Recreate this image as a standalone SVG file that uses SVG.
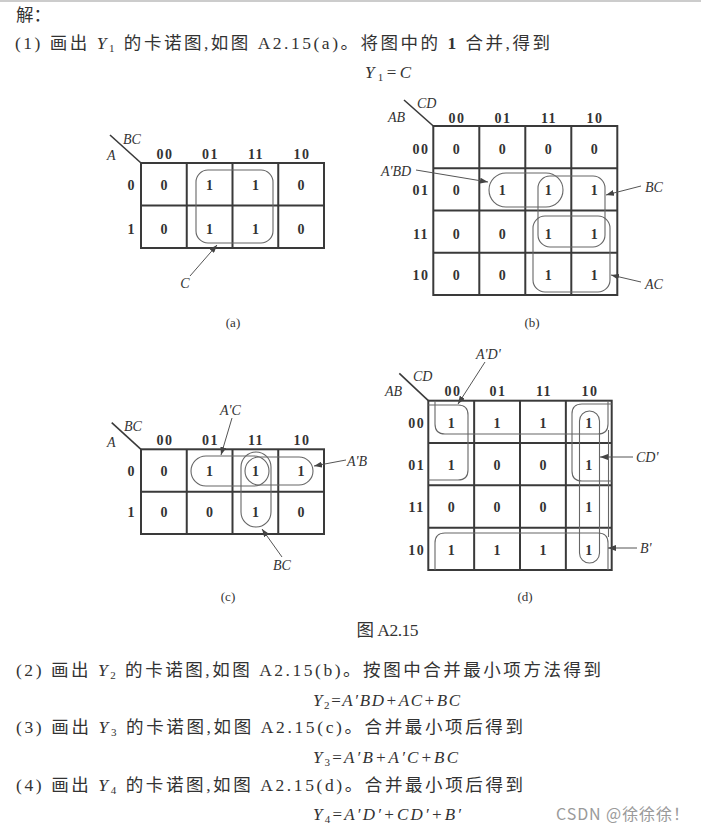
<svg xmlns="http://www.w3.org/2000/svg" width="701" height="834" viewBox="0 0 701 834">
<style>
.t{font-family:"Liberation Serif","Noto Sans CJK SC",serif;font-size:17.5px;fill:#333}
.f{font-family:"Liberation Serif",serif;font-style:italic;font-size:17px;fill:#333}
.sub{font-style:normal;font-size:11px}
.i{font-style:italic}
.grid{fill:none;stroke:#3a3a3a;stroke-width:2}
.diag{stroke:#3a3a3a;stroke-width:1.6}
.loop{fill:none;stroke:#666;stroke-width:1.1}
.d{font-family:"Liberation Serif",serif;font-weight:bold;font-size:14px;fill:#333;text-anchor:middle}
.h{letter-spacing:1.5px}
.v{font-family:"Liberation Serif",serif;font-style:italic;font-size:14px;fill:#333}
.cap{font-family:"Liberation Serif",serif;font-size:13px;fill:#333;text-anchor:middle}
.lead{stroke:#555;stroke-width:1;fill:none;marker-end:url(#ah)}
</style>
<defs>
<marker id="ah" viewBox="0 0 8 6" refX="8" refY="3" markerWidth="8" markerHeight="6" markerUnits="userSpaceOnUse" orient="auto">
<path d="M0,0 L8,3 L0,6 z" fill="#444"/>
</marker>
</defs>
<rect width="701" height="834" fill="#fff"/>
<rect x="0" y="0" width="701" height="2" fill="#ccc"/>

<g id="text-top">
<text x="16" y="21" class="t">解：</text>
<text x="15" y="49" class="t" textLength="535" lengthAdjust="spacing">(1) 画出 <tspan class="i">Y</tspan><tspan class="sub" dy="3">1</tspan><tspan dy="-3"> 的卡诺图,如图 A2.15(a)。将图中的 </tspan><tspan font-weight="bold">1</tspan> 合并,得到</text>
<text x="365" y="78" class="f" textLength="46" lengthAdjust="spacing">Y<tspan class="sub" dy="3">1</tspan><tspan dy="-3" font-style="normal">=</tspan>C</text>
</g>

<g id="map-a">
<rect class="grid" x="141" y="163" width="183" height="85"/>
<path class="grid" d="M186.75,163V248M232.5,163V248M278.25,163V248M141,205.5H324"/>
<line class="diag" x1="110" y1="135" x2="141" y2="163"/>
<text class="v" x="123" y="144">BC</text>
<text class="v" x="107" y="160">A</text>
<g class="d">
<text class="h" x="165" y="158.5">00</text><text class="h" x="210.5" y="158.5">01</text><text class="h" x="256" y="158.5">11</text><text class="h" x="302" y="158.5">10</text>
<text x="131" y="189.5">0</text><text x="131" y="233.5">1</text>
<text x="164" y="189.5">0</text><text x="209.6" y="189.5">1</text><text x="255.4" y="189.5">1</text><text x="301" y="189.5">0</text>
<text x="164" y="233.5">0</text><text x="209.6" y="233.5">1</text><text x="255.4" y="233.5">1</text><text x="301" y="233.5">0</text>
</g>
<rect class="loop" x="196" y="170" width="77" height="73" rx="12"/>
<text class="v" x="185" y="288" text-anchor="middle">C</text>
<text class="cap" x="233" y="327">(a)</text>
</g>

<g id="map-b">
<rect class="grid" x="433.3" y="126" width="184" height="169"/>
<path class="grid" d="M479.3,126V295M525.3,126V295M571.3,126V295M433.3,168.25H617.3M433.3,210.5H617.3M433.3,252.75H617.3"/>
<line class="diag" x1="404" y1="100" x2="433.3" y2="126"/>
<text class="v" x="417" y="108">CD</text>
<text class="v" x="388" y="122">AB</text>
<g class="d">
<text class="h" x="457" y="122.5">00</text><text class="h" x="503" y="122.5">01</text><text class="h" x="549" y="122.5">11</text><text class="h" x="595" y="122.5">10</text>
<text class="h" x="421" y="153.5">00</text><text class="h" x="421" y="194.5">01</text><text class="h" x="421" y="238.5">11</text><text class="h" x="421" y="280">10</text>
<text x="456.3" y="153.5">0</text><text x="502.3" y="153.5">0</text><text x="548.3" y="153.5">0</text><text x="594.3" y="153.5">0</text>
<text x="456.3" y="194.5">0</text><text x="502.3" y="194.5">1</text><text x="548.3" y="194.5">1</text><text x="594.3" y="194.5">1</text>
<text x="456.3" y="238.5">0</text><text x="502.3" y="238.5">0</text><text x="548.3" y="238.5">1</text><text x="594.3" y="238.5">1</text>
<text x="456.3" y="280">0</text><text x="502.3" y="280">0</text><text x="548.3" y="280">1</text><text x="594.3" y="280">1</text>
</g>
<rect class="loop" x="489" y="173" width="74" height="34" rx="17"/>
<rect class="loop" x="538" y="176" width="67" height="71" rx="12"/>
<rect class="loop" x="533" y="216" width="77" height="76" rx="12"/>
<text class="v" x="381" y="176">A'BD</text>
<text class="v" x="645" y="191.5">BC</text>
<text class="v" x="645" y="288.5">AC</text>
<text class="cap" x="532" y="327">(b)</text>
</g>

<g id="map-c">
<rect class="grid" x="141" y="449.3" width="183" height="84.7"/>
<path class="grid" d="M186.75,449.3V534M232.5,449.3V534M278.25,449.3V534M141,491.7H324"/>
<line class="diag" x1="111.7" y1="422.7" x2="141" y2="449.3"/>
<text class="v" x="124" y="431">BC</text>
<text class="v" x="107" y="447">A</text>
<g class="d">
<text class="h" x="165" y="444.5">00</text><text class="h" x="210.5" y="444.5">01</text><text class="h" x="256" y="444.5">11</text><text class="h" x="302" y="444.5">10</text>
<text x="131" y="476">0</text><text x="131" y="517">1</text>
<text x="164" y="476">0</text><text x="209.6" y="476">1</text><text x="255.4" y="476">1</text><text x="301" y="476">1</text>
<text x="164" y="517">0</text><text x="209.6" y="517">0</text><text x="255.4" y="517">1</text><text x="301" y="517">0</text>
</g>
<rect class="loop" x="191" y="456" width="78" height="30" rx="15"/>
<rect class="loop" x="245" y="457" width="68" height="28" rx="14"/>
<rect class="loop" x="241" y="452" width="30" height="75" rx="15"/>
<text class="v" x="220" y="415">A'C</text>
<text class="v" x="347" y="466">A'B</text>
<text class="v" x="273" y="569.5">BC</text>
<text class="cap" x="228" y="601">(c)</text>
</g>

<g id="map-d">
<rect class="grid" x="428.3" y="400.7" width="183.4" height="169.3"/>
<path class="grid" d="M474.15,400.7V570M520,400.7V570M565.85,400.7V570M428.3,443H611.7M428.3,485.35H611.7M428.3,527.7H611.7"/>
<line class="diag" x1="399.3" y1="373.3" x2="428.3" y2="400.7"/>
<text class="v" x="413" y="381">CD</text>
<text class="v" x="385" y="396">AB</text>
<g class="d">
<text class="h" x="453" y="396">00</text><text class="h" x="498" y="396">01</text><text class="h" x="544" y="396">11</text><text class="h" x="590" y="396">10</text>
<text class="h" x="416.7" y="428">00</text><text class="h" x="416.7" y="470">01</text><text class="h" x="416.7" y="512">11</text><text class="h" x="416.7" y="554.5">10</text>
<text x="451.2" y="428">1</text><text x="497.1" y="428">1</text><text x="542.9" y="428">1</text><text x="588.8" y="428">1</text>
<text x="451.2" y="470">1</text><text x="497.1" y="470">0</text><text x="542.9" y="470">0</text><text x="588.8" y="470">1</text>
<text x="451.2" y="512">0</text><text x="497.1" y="512">0</text><text x="542.9" y="512">0</text><text x="588.8" y="512">1</text>
<text x="451.2" y="554.5">1</text><text x="497.1" y="554.5">1</text><text x="542.9" y="554.5">1</text><text x="588.8" y="554.5">1</text>
</g>
<path class="loop" d="M428.3,405H458Q468,405 468,415V470Q468,480 458,480H428.3"/>
<path class="loop" d="M611.7,404H582Q572,404 572,414V471Q572,481 582,481H611.7"/>
<path class="loop" d="M435,400.7V424Q435,434 445,434H598Q608,434 608,424V400.7"/>
<path class="loop" d="M435,570V543Q435,533 445,533H598Q608,533 608,543V570"/>
<path class="loop" d="M608.5,430V537"/>
<rect class="loop" x="579.5" y="411" width="20" height="152" rx="10"/>
<text class="v" x="476" y="359">A'D'</text>
<text class="v" x="636" y="462">CD'</text>
<text class="v" x="640" y="553">B'</text>
<text class="cap" x="525" y="601">(d)</text>
</g>

<g id="connectors">
<line class="lead" x1="190" y1="276" x2="217" y2="245"/>
<line class="lead" x1="416" y1="170" x2="488" y2="182"/>
<line class="lead" x1="641" y1="186" x2="606" y2="195"/>
<line class="lead" x1="641" y1="282" x2="611" y2="275"/>
<line class="lead" x1="232" y1="418" x2="221" y2="455"/>
<line class="lead" x1="346" y1="460" x2="314" y2="466"/>
<line class="lead" x1="282" y1="557" x2="262" y2="529"/>
<line class="lead" x1="485" y1="362" x2="458" y2="404"/>
<line class="lead" x1="633" y1="457" x2="600" y2="457"/>
<line class="lead" x1="637" y1="548" x2="608" y2="548"/>
</g>

<g id="text-bottom">
<text x="387.5" y="636" class="t" text-anchor="middle" font-size="14" textLength="62" lengthAdjust="spacing">图 A2.15</text>
<text x="16" y="676" class="t" textLength="585" lengthAdjust="spacing">(2) 画出 <tspan class="i">Y</tspan><tspan class="sub" dy="3">2</tspan><tspan dy="-3"> 的卡诺图,如图 A2.15(b)。按图中合并最小项方法得到</tspan></text>
<text x="313" y="706" class="f" textLength="147" lengthAdjust="spacing">Y<tspan class="sub" dy="3">2</tspan><tspan dy="-3" font-style="normal">=</tspan>A′BD+AC+BC</text>
<text x="16" y="733" class="t" textLength="507" lengthAdjust="spacing">(3) 画出 <tspan class="i">Y</tspan><tspan class="sub" dy="3">3</tspan><tspan dy="-3"> 的卡诺图,如图 A2.15(c)。合并最小项后得到</tspan></text>
<text x="313" y="763" class="f" textLength="145" lengthAdjust="spacing">Y<tspan class="sub" dy="3">3</tspan><tspan dy="-3" font-style="normal">=</tspan>A′B+A′C+BC</text>
<text x="16" y="791" class="t" textLength="507" lengthAdjust="spacing">(4) 画出 <tspan class="i">Y</tspan><tspan class="sub" dy="3">4</tspan><tspan dy="-3"> 的卡诺图,如图 A2.15(d)。合并最小项后得到</tspan></text>
<text x="313" y="820" class="f" textLength="148" lengthAdjust="spacing">Y<tspan class="sub" dy="3">4</tspan><tspan dy="-3" font-style="normal">=</tspan>A′D′+CD′+B′</text>
<text x="556" y="820" font-family="'Noto Sans CJK SC','Liberation Sans',sans-serif" font-size="16" fill="#9a9a9a" textLength="133" lengthAdjust="spacing">CSDN @徐徐徐！</text>
</g>
</svg>
